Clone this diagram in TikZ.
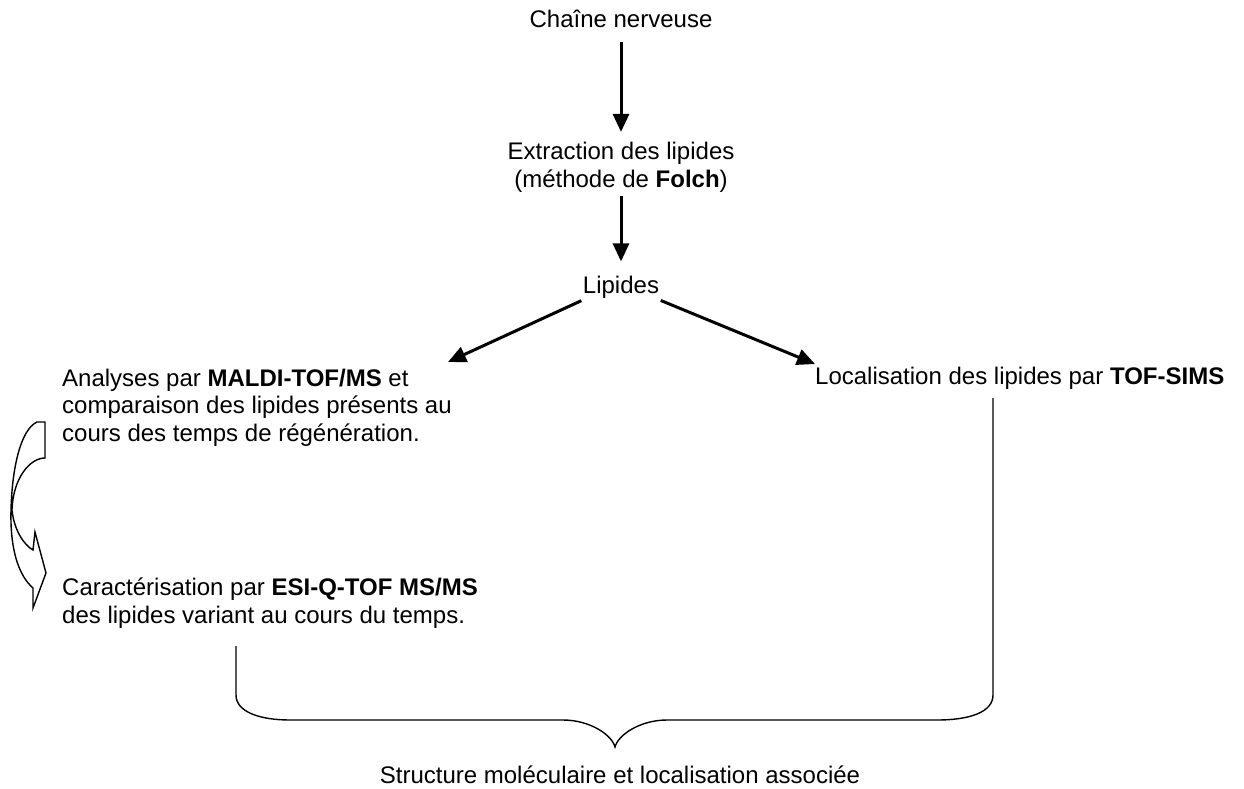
\documentclass[tikz,border=0pt]{standalone}
\usepackage{fontspec}
\setmainfont{Liberation Sans}
\usetikzlibrary{arrows.meta}
\begin{document}
\begin{tikzpicture}[x=1pt,y=-1pt,
  txt/.style={font=\fontsize{24}{27.5}\selectfont, inner sep=0pt, anchor=base},
  arr/.style={line width=3pt,-{Triangle[length=18pt,width=16pt]}},
  thinline/.style={line width=1.4pt, line join=miter}]
\useasboundingbox (0,0) rectangle (1244,789);
\node[txt] (chaine) at (621,28) {Chaîne nerveuse};
\node[txt,align=center] (extr) at (621,187) {Extraction des lipides\\(méthode de \textbf{Folch})};
\node[txt] (lip) at (621,293) {Lipides};
\node[txt,align=left,anchor=base west] (maldi) at (62,441) {Analyses par \textbf{MALDI-TOF/MS} et\\comparaison des lipides présents au\\cours des temps de régénération.};
\node[txt,anchor=base west] (tof) at (815,384) {Localisation des lipides par \textbf{TOF-SIMS}};
\node[txt,align=left,anchor=base west] (esi) at (62,623) {Caractérisation par \textbf{ESI-Q-TOF MS/MS}\\des lipides variant au cours du temps.};
\node[txt] (struct) at (620,783) {Structure moléculaire et localisation associée};
\coordinate (lt) at (448,362);
\coordinate (rt) at (815,364);
\coordinate (bl) at (236,646);
\coordinate (br) at (993,398);
\draw[arr, shorten <=14pt, shorten >=10pt] (chaine.south) -- (extr.north);
\draw[arr, shorten <=4pt, shorten >=14pt] (extr.south) -- (lip.north);
\draw[arr, shorten <=6pt] ([xshift=4pt]lip.south west) -- (lt);
\draw[arr, shorten <=6pt] ([xshift=-4pt]lip.south east) -- (rt);
\draw[thinline] (bl) -- (236,695) .. controls (236,712) and (260,720) .. (290,720) -- (563,720) .. controls (590,720) and (612,735) .. (615,747) .. controls (618,735) and (640,720) .. (667,720) -- (937,720) .. controls (970,720) and (993,712) .. (993,695) -- (br);
\draw[thinline] (45,422) -- (45,458) .. controls (30,458) and (13,478) .. (12,510) .. controls (14,530) and (24,545) .. (33,550) -- (35,532) -- (46,573) -- (33,608) -- (33,588) .. controls (18,575) and (10,548) .. (11,510) .. controls (12,470) and (20,430) .. (37,422) -- cycle;
\end{tikzpicture}
\end{document}
